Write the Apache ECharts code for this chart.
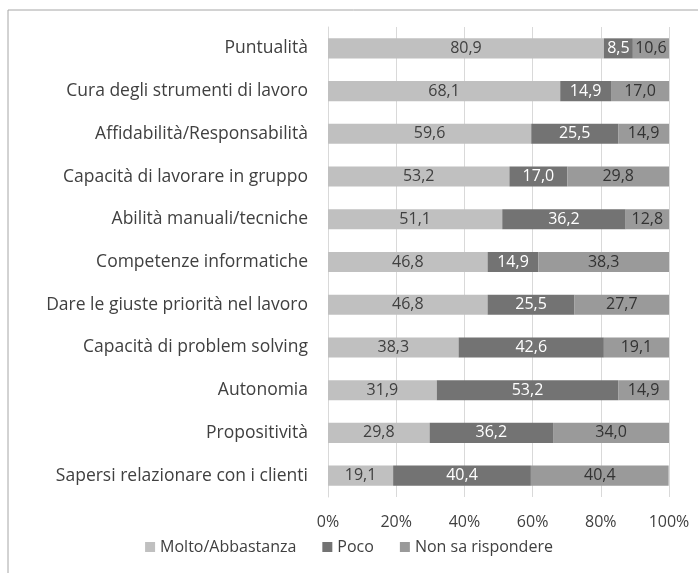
<!DOCTYPE html>
<html>
<head>
<meta charset="utf-8">
<script src="https://cdn.jsdelivr.net/npm/echarts@6/dist/echarts.min.js"></script>
<style>
  html, body { margin: 0; padding: 0; background: #fff; }
  #chart { width: 698px; height: 573px; }
</style>
</head>
<body>
<div id="chart"></div>
<script>
// categories, top to bottom as in the picture
var categories = [
    'Puntualità',
    'Cura degli strumenti di lavoro',
    'Affidabilità/Responsabilità',
    'Capacità di lavorare in gruppo',
    'Abilità manuali/tecniche',
    'Competenze informatiche',
    'Dare le giuste priorità nel lavoro',
    'Capacità di problem solving',
    'Autonomia',
    'Propositività',
    'Sapersi relazionare con i clienti'
];
var molto = [80.9, 68.1, 59.6, 53.2, 51.1, 46.8, 46.8, 38.3, 31.9, 29.8, 19.1];
var poco = [8.5, 14.9, 25.5, 17.0, 36.2, 14.9, 25.5, 42.6, 53.2, 36.2, 40.4];
var nonSa = [10.6, 17.0, 14.9, 29.8, 12.8, 38.3, 27.7, 19.1, 14.9, 34.0, 40.4];
var seriesNames = ['Molto/Abbastanza', 'Poco', 'Non sa rispondere'];

var font = '"Open Sans", "Liberation Sans", sans-serif';
var chart = echarts.init(document.getElementById('chart'));

function fmt(p) { return p.value.toFixed(1).replace('.', ','); }

function makeSeries(name, data, color, labelColor) {
    return {
        name: name,
        type: 'bar',
        stack: 'tot',
        data: data,
        barWidth: '47%',
        itemStyle: { color: color },
        label: {
            show: true,
            position: 'inside',
            formatter: fmt,
            color: labelColor,
            fontFamily: font,
            fontSize: 16
        }
    };
}

var option = {
    backgroundColor: '#fff',
    animation: false,
    graphic: [{
        type: 'rect',
        shape: { x: 8, y: 10, width: 720, height: 600 },
        style: { fill: 'none', stroke: '#a6a6a6', lineWidth: 1 }
    }],
    grid: { left: 328, right: 29, top: 27, bottom: 76, containLabel: false },
    legend: {
        data: seriesNames,
        bottom: 13,
        left: 'center',
        itemWidth: 10,
        itemHeight: 10,
        itemGap: 26,
        icon: 'rect',
        textStyle: { fontFamily: font, fontSize: 16, color: '#404040' }
    },
    xAxis: {
        type: 'value',
        min: 0,
        max: 100,
        interval: 20,
        axisLabel: {
            formatter: '{value}%',
            fontFamily: font,
            fontSize: 16,
            color: '#404040',
            margin: 17
        },
        axisLine: { show: false },
        axisTick: { show: false },
        splitLine: { show: true, lineStyle: { color: '#d9d9d9', width: 1 } }
    },
    yAxis: {
        type: 'category',
        data: categories,
        inverse: true,
        axisLabel: {
            fontFamily: font,
            fontSize: 17.5,
            color: '#404040',
            margin: 20
        },
        axisLine: { show: true, lineStyle: { color: '#d9d9d9' } },
        axisTick: { show: false }
    },
    series: [
        makeSeries(seriesNames[0], molto, '#c0c0c0', '#404040'),
        makeSeries(seriesNames[1], poco, '#737373', '#ffffff'),
        makeSeries(seriesNames[2], nonSa, '#9a9a9a', '#333333')
    ]
};

chart.setOption(option);
</script>
</body>
</html>
